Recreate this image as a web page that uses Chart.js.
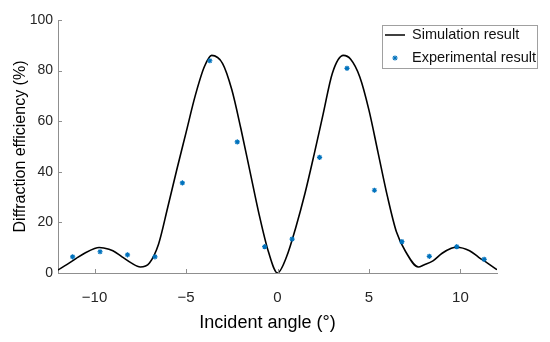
<!DOCTYPE html>
<html>
<head>
<meta charset="utf-8">
<script src="https://cdn.jsdelivr.net/npm/chart.js@4.4.1/dist/chart.umd.min.js"></script>
<style>
  html, body { margin: 0; padding: 0; background: #ffffff; }
  #wrap { width: 550px; height: 342px; }
</style>
</head>
<body>
<div id="wrap"><canvas id="c" width="550" height="342"></canvas></div>
<script>
// ---- data ----
const simAngles = [-12, -11.5, -11, -10.5, -10, -9.75, -9.5, -9, -8.5, -8, -7.5, -7, -6.5, -6, -5.5, -5, -4.5, -4, -3.6, -3, -2.5, -2, -1.5, -1, -0.5, 0,
                   0.5, 1, 1.5, 2, 2.5, 3, 3.6, 4, 4.5, 5, 5.5, 6, 6.5, 7, 7.7, 8, 8.5, 9, 9.5, 9.8, 10.5, 11, 11.5, 12];
const simEfficiency = [1.2, 3.4, 5.8, 8.0, 9.7, 10.1, 9.9, 8.8, 6.4, 4.0, 2.4, 4.0, 11.5, 26, 41, 55.5, 70, 81.5, 86, 82.8, 72.5, 57, 40, 23, 8.5, 0,
                       6.5, 18, 31.4, 46.8, 63, 79, 86, 84.5, 77.5, 64.4, 47.5, 30.6, 16.3, 8.5, 2.4, 3.2, 4.8, 7.8, 9.8, 10.2, 8.8, 6.2, 3.8, 1.3];
const expAngles = [-11.2, -9.7, -8.2, -6.7, -5.2, -3.7, -2.2, -0.7, 0.8, 2.3, 3.8, 5.3, 6.8, 8.3, 9.8, 11.3];
const expEfficiency = [6.4, 8.4, 7.2, 6.4, 35.6, 83.9, 51.8, 10.4, 13.4, 45.7, 80.9, 32.7, 12.4, 6.6, 10.4, 5.4];
const xTicks = [-10, -5, 0, 5, 10];
const yTicks = [0, 20, 40, 60, 80, 100];
const seriesLabels = ['Simulation result', 'Experimental result'];
const xTitle = 'Incident angle (\u00B0)';
const yTitle = 'Diffraction efficiency (%)';

// ---- styling ----
const FONT = "'Liberation Sans', Arial, Helvetica, sans-serif";
const axisColor = '#8f8f8f';
const tickLabelColor = '#262626';
const expColor = '#0072BD';

Chart.defaults.font.family = FONT;

const simPoints = simAngles.map((a, i) => ({ x: a, y: simEfficiency[i] }));
const expPoints = expAngles.map((a, i) => ({ x: a, y: expEfficiency[i] }));

const decorPlugin = {
  id: 'decor',
  afterDraw(chart) {
    const { ctx, chartArea: ca, scales: { x, y } } = chart;
    ctx.save();
    // inward tick marks
    ctx.strokeStyle = axisColor;
    ctx.lineWidth = 1;
    xTicks.forEach(v => {
      const px = Math.round(x.getPixelForValue(v)) + 0.5;
      ctx.beginPath(); ctx.moveTo(px, ca.bottom); ctx.lineTo(px, ca.bottom - 4); ctx.stroke();
    });
    yTicks.forEach(v => {
      const py = Math.round(y.getPixelForValue(v)) + 0.5;
      ctx.beginPath(); ctx.moveTo(ca.left, py); ctx.lineTo(ca.left + 4, py); ctx.stroke();
    });
    // x axis title
    ctx.fillStyle = '#000000';
    ctx.font = '18px ' + FONT;
    ctx.textAlign = 'center';
    ctx.textBaseline = 'middle';
    ctx.fillText(xTitle, (ca.left + ca.right) / 2 - 10, 323);
    // legend box
    const lx = 382.5, ly = 25.5, lw = 155, lh = 43;
    ctx.fillStyle = '#ffffff';
    ctx.fillRect(lx, ly, lw, lh);
    ctx.strokeStyle = '#a0a0a0';
    ctx.lineWidth = 1;
    ctx.strokeRect(lx, ly, lw, lh);
    // line sample
    ctx.strokeStyle = '#000000';
    ctx.lineWidth = 1.5;
    ctx.beginPath(); ctx.moveTo(385, 35); ctx.lineTo(405, 35); ctx.stroke();
    // star sample
    ctx.strokeStyle = expColor;
    ctx.lineWidth = 1.2;
    const sx = 395, sy = 58, r = 2.6;
    for (let k = 0; k < 4; k++) {
      const ang = k * Math.PI / 4;
      ctx.beginPath();
      ctx.moveTo(sx - Math.cos(ang) * r, sy - Math.sin(ang) * r);
      ctx.lineTo(sx + Math.cos(ang) * r, sy + Math.sin(ang) * r);
      ctx.stroke();
    }
    ctx.fillStyle = '#111111';
    ctx.font = '14.5px ' + FONT;
    ctx.textAlign = 'left';
    ctx.textBaseline = 'middle';
    ctx.fillText(seriesLabels[0], 412, 35);
    ctx.fillText(seriesLabels[1], 412, 58);
    ctx.restore();
  }
};

new Chart(document.getElementById('c'), {
  type: 'scatter',
  data: {
    datasets: [
      {
        label: seriesLabels[0],
        data: simPoints,
        showLine: true,
        borderColor: '#000000',
        borderWidth: 1.6,
        pointRadius: 0,
        pointHoverRadius: 0,
        cubicInterpolationMode: 'monotone',
        fill: false,
        order: 2
      },
      {
        label: seriesLabels[1],
        data: expPoints,
        showLine: false,
        pointStyle: 'star',
        pointRadius: 2.6,
        pointBorderWidth: 1.2,
        borderColor: expColor,
        backgroundColor: expColor,
        order: 1
      }
    ]
  },
  options: {
    responsive: false,
    animation: false,
    devicePixelRatio: 1,
    layout: { padding: { top: 20, right: 53, left: 0, bottom: 0 } },
    plugins: {
      legend: { display: false },
      tooltip: { enabled: false }
    },
    scales: {
      x: {
        type: 'linear',
        min: -12,
        max: 12,
        afterBuildTicks: s => { s.ticks = xTicks.map(v => ({ value: v })); },
        afterFit: s => { s.height = 69; },
        grid: { display: false, drawTicks: false },
        border: { display: true, color: axisColor, width: 1 },
        ticks: {
          padding: 16,
          color: tickLabelColor,
          font: { size: 15 },
          maxRotation: 0,
          callback: v => (v < 0 ? '\u2212' + Math.abs(v) : String(v))
        },
        title: { display: false, text: xTitle }
      },
      y: {
        type: 'linear',
        min: 0,
        max: 100,
        afterBuildTicks: s => { s.ticks = yTicks.map(v => ({ value: v })); },
        afterFit: s => { s.width = 58; },
        grid: { display: false, drawTicks: false },
        border: { display: true, color: axisColor, width: 1 },
        ticks: {
          padding: 5,
          color: tickLabelColor,
          font: { size: 14 }
        },
        title: {
          display: true,
          text: yTitle,
          color: '#000000',
          font: { size: 16 },
          padding: { top: 11, bottom: 0 }
        }
      }
    }
  },
  plugins: [decorPlugin]
});
</script>
</body>
</html>
